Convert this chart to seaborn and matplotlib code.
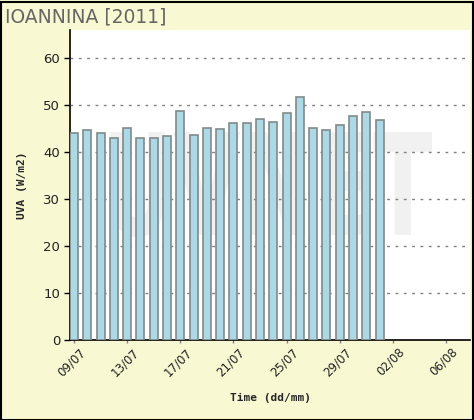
import matplotlib
matplotlib.use("Agg")
import matplotlib.pyplot as plt
import matplotlib.transforms as mtransforms
from matplotlib.textpath import TextPath
from matplotlib.patches import PathPatch, Rectangle
from matplotlib.font_manager import FontProperties
import seaborn as sns
import pandas as pd

# ----- Data -----
days = [f"{d:02d}/07" for d in range(9, 32)] + ["01/08"]
uva = [44.0, 44.7, 44.0, 43.0, 45.1, 43.0, 43.0, 43.4, 48.7, 43.6, 45.1, 44.9,
       46.2, 46.2, 47.0, 46.4, 48.3, 51.7, 45.1, 44.7, 45.7, 47.7, 48.5, 46.8]
tick_labels = ["09/07", "13/07", "17/07", "21/07", "25/07", "29/07", "02/08", "06/08"]

df = pd.DataFrame({"day": days, "uva": uva})

# ----- Setup -----
sns.set_style("white")
plt.rcParams['font.family'] = ['DejaVu Sans']
bg = '#f8f8d2'
fig = plt.figure(figsize=(4.74, 4.20), dpi=100)
fig.patch.set_facecolor(bg)
ax = fig.add_axes([70 / 474, 1 - 340 / 420, 400 / 474, 310 / 420])
ax.set_facecolor('white')

# watermark behind the grid and bars
tp = TextPath((0, 0), "UVNET", prop=FontProperties(family="DejaVu Sans", weight="bold"))
bb = tp.get_extents()
box = (110 / 474, 1 - 237 / 420, 322 / 474, 105 / 420)
tr = (mtransforms.Affine2D()
      .translate(-bb.x0, -bb.y0)
      .scale(box[2] / bb.width, box[3] / bb.height)
      .translate(box[0], box[1]) + fig.transFigure)
ax.add_patch(PathPatch(tp, transform=tr, facecolor='#f1f1f1', edgecolor='none', zorder=0.5))

sns.barplot(data=df, x="day", y="uva", color='#add8e6', saturation=1,
            edgecolor='#808a8a', linewidth=1.2, width=0.6, ax=ax, zorder=3)

ax.set_ylim(0, 66)
ax.set_xlim(-0.3, 29.8)
ax.set_yticks(range(0, 61, 10))
ax.set_xticks(range(0, 29, 4))
ax.set_xticklabels(tick_labels)

for y in range(10, 61, 10):
    ax.axhline(y, color='#808080', linestyle=(0, (2, 4)), linewidth=1, zorder=1)

ax.tick_params(axis='y', direction='out', length=4, width=1, color='black', labelsize=9.5,
               labelcolor='#222222', pad=3, left=True)
ax.tick_params(axis='x', direction='out', length=2, width=1, color='#808080', labelsize=8.5,
               labelcolor='#222222', pad=2, bottom=True)
offset = mtransforms.ScaledTranslation(14 / 100, 0, fig.dpi_scale_trans)
for lab in ax.get_xticklabels():
    lab.set_rotation(45)
    lab.set_ha('right')
    lab.set_va('top')
    lab.set_transform(lab.get_transform() + offset)

for s in ['top', 'right']:
    ax.spines[s].set_visible(False)
for s in ['left', 'bottom']:
    ax.spines[s].set_color('black')
    ax.spines[s].set_linewidth(1.2)

ax.set_xlabel("Time (dd/mm)", family="DejaVu Sans Mono", weight="bold", fontsize=8, labelpad=10)
ax.set_ylabel("UVA (W/m2)", family="DejaVu Sans Mono", weight="bold", fontsize=8, labelpad=12)

fig.text(5 / 474, 1 - 17 / 420, "IOANNINA [2011]", fontsize=13.5, color='#666666', va='center', ha='left')
fig.add_artist(Rectangle((0.5 / 474, 0.5 / 420), 1 - 2 / 474, 1 - 2 / 420, transform=fig.transFigure,
                         facecolor='none', edgecolor='black', linewidth=1.5))

fig.savefig("out.png", dpi=100, facecolor=bg)
